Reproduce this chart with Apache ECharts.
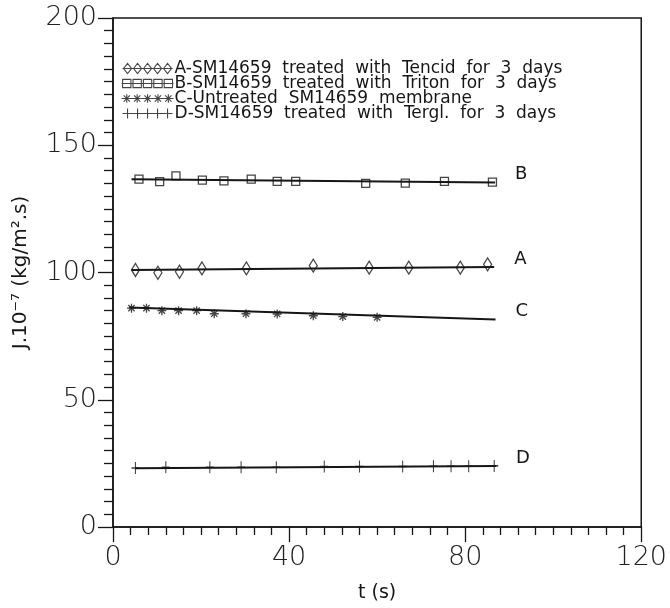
<!DOCTYPE html>
<html>
<head>
<meta charset="utf-8">
<script src="https://cdn.jsdelivr.net/npm/echarts@6/dist/echarts.min.js"></script>
<style>
  html, body { margin: 0; padding: 0; background: #fff; }
  #chart { width: 670px; height: 608px; }
</style>
</head>
<body>
<div id="chart"></div>
<script>
// measured points (t in s, J in 1e-7 kg/m2.s)
const seriesNames = [
  "A-SM14659  treated  with  Tencid  for  3  days",
  "B-SM14659  treated  with  Triton  for  3  days",
  "C-Untreated  SM14659  membrane",
  "D-SM14659  treated  with  Tergl.  for  3  days",
];
const endTags = ["A", "B", "C", "D"];

const pointsA = [[5.1, 101.0], [10.2, 99.9], [15.1, 100.3], [20.2, 101.6], [30.3, 101.6],
  [45.5, 102.7], [58.2, 101.9], [67.2, 101.9], [78.9, 101.9], [85.1, 103.2]];
const pointsB = [[5.9, 136.7], [10.6, 135.7], [14.3, 138.0], [20.3, 136.3], [25.2, 136.0],
  [31.4, 136.7], [37.3, 135.8], [41.5, 135.8], [57.4, 135.0], [66.4, 135.1], [75.3, 135.8], [86.2, 135.5]];
const pointsC = [[4.2, 86.0], [7.6, 86.0], [11.1, 85.0], [14.9, 85.0], [19.0, 85.0], [23.0, 83.8],
  [30.2, 83.8], [37.3, 83.7], [45.5, 83.0], [52.2, 82.7], [60.0, 82.4]];
const pointsD = [[5.1, 23.2], [12.0, 23.5], [22.0, 23.5], [29.1, 23.5], [37.1, 23.5], [48.0, 23.8],
  [56.0, 23.8], [65.8, 23.8], [72.8, 23.9], [76.8, 23.9], [80.8, 23.9], [86.6, 24.0]];

// fitted lines (start / end)
const fitA = [[4.2, 101.0], [86.6, 102.2]];
const fitB = [[4.2, 136.6], [86.8, 135.4]];
const fitC = [[3.7, 86.2], [86.9, 81.5]];
const fitD = [[5.0, 23.1], [87.0, 24.0]];

const xTicks = [0, 40, 80, 120];
const yTicks = [0, 50, 100, 150, 200];

const ink = "#161616";
const font = "DejaVu Sans";

const symDiamond = "path://M0,5L4,0L8,5L4,10Z";
const symStar = "path://M0,5L10,5M5,0L5,10M1.5,1.5L8.5,8.5M8.5,1.5L1.5,8.5";
const symPlus = "path://M0,5L10,5M5,0L5,10";

// legend icons: five markers on a line
function rowIcon(kind) {
  let p = "M0,5L50,5";
  for (let i = 0; i < 5; i++) {
    const c = 5 + i * 10;
    if (kind === "diamond") p += `M${c - 4},5L${c},0L${c + 4},5L${c},10Z`;
    if (kind === "square") p += `M${c - 4},1L${c + 4},1L${c + 4},9L${c - 4},9Z`;
    if (kind === "star") p += `M${c - 4},5L${c + 4},5M${c},1L${c},9M${c - 3},2L${c + 3},8M${c + 3},2L${c - 3},8`;
    if (kind === "plus") p += `M${c},0L${c},10`;
  }
  return "path://" + p;
}

const markerStyle = { color: "transparent", borderColor: ink, borderWidth: 1.3 };

function scatter(name, data, symbol, size) {
  return {
    type: "scatter", name, data, symbol, symbolSize: size,
    itemStyle: markerStyle, z: 3,
  };
}
function fit(data, tag) {
  return {
    type: "line", data, symbol: "none", silent: true,
    lineStyle: { color: ink, width: 2 },
    endLabel: { show: true, formatter: tag, offset: [12, -8], fontSize: 18, color: ink, fontFamily: font },
  };
}

const chart = echarts.init(document.getElementById("chart"));
chart.setOption({
  animation: false,
  backgroundColor: "#fff",
  grid: { left: 113, right: 26, top: 18, bottom: 72, show: true, borderColor: ink, borderWidth: 1.5 },
  legend: {
    orient: "vertical", left: 121, top: 60, padding: 0, itemGap: -2,
    itemWidth: 52, itemHeight: 10,
    itemStyle: { color: "transparent", borderColor: ink, borderWidth: 1.1 },
    textStyle: { fontFamily: font, fontSize: 17, color: ink, lineHeight: 13, padding: [0, 0, 0, -4] },
    data: [
      { name: seriesNames[0], icon: rowIcon("diamond") },
      { name: seriesNames[1], icon: rowIcon("square") },
      { name: seriesNames[2], icon: rowIcon("star") },
      { name: seriesNames[3], icon: rowIcon("plus") },
    ],
  },
  xAxis: {
    type: "value", min: xTicks[0], max: xTicks[xTicks.length - 1], interval: 40,
    name: "t (s)", nameLocation: "middle", nameGap: 57,
    nameTextStyle: { fontFamily: font, fontSize: 19, color: ink },
    axisLine: { lineStyle: { color: ink, width: 1.5 } },
    axisTick: { inside: false, length: 15, lineStyle: { color: ink, width: 1.3 } },
    minorTick: { show: true, splitNumber: 10, length: 8, lineStyle: { color: ink, width: 1.3 } },
    splitLine: { show: false },
    axisLabel: { fontFamily: font, fontWeight: 200, fontSize: 27, color: "#222", margin: 17 },
  },
  yAxis: {
    type: "value", min: yTicks[0], max: yTicks[yTicks.length - 1], interval: 50,
    name: "J.10⁻⁷ (kg/m².s)", nameLocation: "middle", nameGap: 82,
    nameTextStyle: { fontFamily: font, fontSize: 20, color: ink },
    axisLine: { show: true, lineStyle: { color: ink, width: 1.5 } },
    axisTick: { show: true, inside: false, length: 15, lineStyle: { color: ink, width: 1.3 } },
    minorTick: { show: true, splitNumber: 10, length: 9, lineStyle: { color: ink, width: 1.3 } },
    splitLine: { show: false },
    axisLabel: { fontFamily: font, fontWeight: 200, fontSize: 27, color: "#222", margin: 16 },
  },
  series: [
    fit(fitA, endTags[0]),
    fit(fitB, endTags[1]),
    fit(fitC, endTags[2]),
    fit(fitD, endTags[3]),
    scatter(seriesNames[0], pointsA, symDiamond, [8, 13]),
    scatter(seriesNames[1], pointsB, "rect", [8, 8]),
    scatter(seriesNames[2], pointsC, symStar, [9, 9]),
    scatter(seriesNames[3], pointsD, symPlus, [8, 12]),
  ],
});
</script>
</body>
</html>
